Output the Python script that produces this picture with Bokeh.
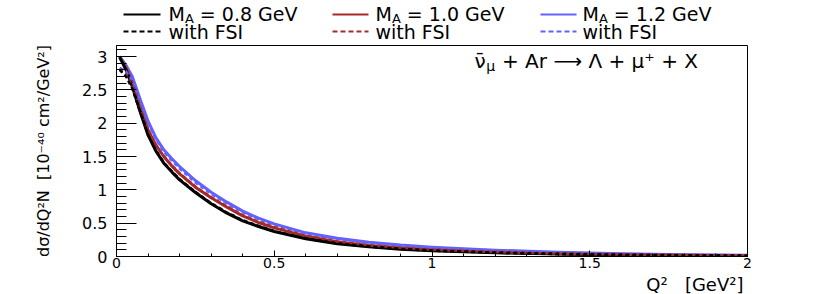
from bokeh.plotting import figure
from bokeh.models import Range1d, FixedTicker, Label
from bokeh.layouts import column
from bokeh.core.properties import value
from bokeh.embed import file_html
from bokeh.resources import INLINE

# ---------------- data ----------------
q2 = [0.01, 0.03, 0.05, 0.075, 0.1, 0.125, 0.15, 0.175, 0.2, 0.25, 0.3, 0.35, 0.4,
      0.45, 0.5, 0.6, 0.7, 0.8, 0.9, 1.0, 1.2, 1.4, 1.6, 1.8, 2.0]

ma08 = [2.99, 2.80, 2.55, 2.17, 1.82, 1.58, 1.40, 1.27, 1.15, 0.96, 0.79, 0.65, 0.535,
        0.45, 0.375, 0.265, 0.19, 0.145, 0.11, 0.086, 0.055, 0.036, 0.023, 0.015, 0.010]
ma10 = [2.99, 2.83, 2.60, 2.24, 1.90, 1.67, 1.50, 1.36, 1.24, 1.04, 0.88, 0.74, 0.61,
        0.51, 0.43, 0.305, 0.22, 0.165, 0.127, 0.100, 0.064, 0.042, 0.028, 0.019, 0.013]
ma12 = [3.00, 2.87, 2.70, 2.36, 2.03, 1.78, 1.60, 1.47, 1.35, 1.14, 0.965, 0.815, 0.68,
        0.575, 0.49, 0.355, 0.275, 0.215, 0.172, 0.140, 0.095, 0.063, 0.042, 0.028, 0.019]

ma08_fsi = [2.80, 2.70, 2.52, 2.17, 1.83, 1.59, 1.41, 1.28, 1.16, 0.97, 0.80, 0.66, 0.545,
            0.46, 0.38, 0.27, 0.195, 0.148, 0.113, 0.088, 0.057, 0.037, 0.024, 0.016, 0.011]
ma10_fsi = [2.81, 2.73, 2.56, 2.23, 1.90, 1.67, 1.50, 1.37, 1.25, 1.05, 0.89, 0.75, 0.62,
            0.52, 0.44, 0.31, 0.225, 0.168, 0.130, 0.102, 0.066, 0.043, 0.029, 0.019, 0.013]
ma12_fsi = [2.83, 2.78, 2.64, 2.32, 2.00, 1.76, 1.57, 1.44, 1.32, 1.11, 0.94, 0.795, 0.665,
            0.56, 0.475, 0.345, 0.265, 0.207, 0.165, 0.134, 0.090, 0.060, 0.040, 0.027, 0.018]

ma_labels = ["0.8", "1.0", "1.2"]
colors = ["#000000", "#a52a2a", "#6262ff"]

x_ticks = [0, 0.5, 1, 1.5, 2]
x_tick_labels = ["0", "0.5", "1", "1.5", "2"]
y_ticks = [0, 0.5, 1, 1.5, 2, 2.5, 3]
y_tick_labels = ["0", "0.5", "1", "1.5", "2", "2.5", "3"]

x_title = "Q²\u00a0\u00a0\u00a0[GeV²]"
y_title = "dσ/dQ²N\u00a0\u00a0[10⁻⁴⁰ cm²/GeV²]"

FONT = "DejaVu Sans"

# ---------------- layout geometry (page pixels) ----------------
W, H = 830, 294
LEG_H = 44
FR_L, FR_R = 116, 747          # frame left / right
FR_T, FR_B = 45, 256           # frame top / bottom
AX_B = 17                      # space for x tick labels below frame
BT_H = H - FR_B - AX_B         # bottom strip for x title

# ---------------- main plot ----------------
XMAX, YMAX = 2.0, 3.165
p = figure(width=W, height=FR_B + AX_B - LEG_H, x_range=Range1d(0, XMAX),
           y_range=Range1d(0, YMAX), output_backend="svg", toolbar_location=None,
           min_border_left=FR_L, min_border_right=W - FR_R,
           min_border_top=FR_T - LEG_H, min_border_bottom=AX_B)
p.grid.visible = False
p.outline_line_color = "black"
p.outline_line_width = 1
p.background_fill_color = "white"
p.border_fill_color = "white"

series = [ma08, ma10, ma12]
series_fsi = [ma08_fsi, ma10_fsi, ma12_fsi]
for vals, c in reversed(list(zip(series, colors))):
    p.line(q2, vals, line_color=c, line_width=3, line_join="round")
for vals, c in reversed(list(zip(series_fsi, colors))):
    p.line(q2, vals, line_color=c, line_width=2.5, line_dash="4 3", line_join="round")

x_minor = [round(i * 0.1, 1) for i in range(21)]
y_minor = [round(i * 0.1, 1) for i in range(32)]
p.xaxis.ticker = FixedTicker(ticks=x_ticks, minor_ticks=x_minor)
p.yaxis.ticker = FixedTicker(ticks=y_ticks, minor_ticks=y_minor)
p.xaxis.major_label_overrides = {float(t): l for t, l in zip(x_ticks, x_tick_labels)}
p.yaxis.major_label_overrides = {float(t): l for t, l in zip(y_ticks, y_tick_labels)}

for ax in (p.xaxis, p.yaxis):
    ax.axis_line_color = "black"
    ax.major_tick_line_color = "black"
    ax.minor_tick_line_color = "black"
    ax.major_tick_out = 0
    ax.minor_tick_out = 0
    ax.major_label_text_font = FONT
    ax.major_label_text_color = "black"

p.yaxis.major_label_text_font_size = "16px"
p.yaxis.major_tick_in = 20
p.yaxis.minor_tick_in = 10
p.yaxis.major_label_standoff = 9
p.yaxis.axis_label = y_title
p.yaxis.axis_label_text_font = FONT
p.yaxis.axis_label_text_font_size = "16px"
p.yaxis.axis_label_text_font_style = "normal"
p.yaxis.axis_label_text_color = "black"
p.yaxis.axis_label_standoff = 26

p.xaxis.major_label_text_font_size = "14px"
p.xaxis.major_tick_in = 6
p.xaxis.minor_tick_in = 3
p.xaxis.major_label_standoff = 1

PX_X = (FR_R - FR_L) / XMAX      # px per x unit
PX_Y = (FR_B - FR_T) / YMAX      # px per y unit

def dx(page_x):
    return (page_x - FR_L) / PX_X

def dy(page_y):
    return (FR_B - page_y) / PX_Y

# reaction text
sx, sy = 474, 60
p.add_layout(Label(x=dx(sx), y=dy(sy), text="ν̄", text_font=FONT, text_font_size="20px",
                   text_baseline="middle", text_color="black"))
p.add_layout(Label(x=dx(sx + 11.8), y=dy(sy + 5), text="μ", text_font=FONT,
                   text_font_size="14px", text_baseline="middle", text_color="black"))
p.add_layout(Label(x=dx(sx + 27.5), y=dy(sy), text="+ Ar ⟶ Λ + μ⁺ + X", text_font=FONT,
                   text_font_size="20px", text_baseline="middle", text_color="black"))


def strip(height, top_page):
    f = figure(width=W, height=height, x_range=Range1d(FR_L, FR_R),
               y_range=Range1d(top_page + height, top_page),
               output_backend="svg", toolbar_location=None,
               x_axis_location=None, y_axis_location=None,
               min_border_left=FR_L, min_border_right=W - FR_R,
               min_border_top=0, min_border_bottom=0)
    f.outline_line_color = None
    f.grid.visible = False
    f.background_fill_color = "white"
    f.border_fill_color = "white"
    return f

# ---------------- legend strip (page coordinates) ----------------
lg = strip(LEG_H, 0)
line_x0 = [123, 332, 540]
line_x1 = [160, 368, 576]
text_x = [168, 375, 582]
row1, row2 = 13, 31
FS = 19
for i in range(3):
    c = colors[i]
    lg.line([line_x0[i], line_x1[i]], [row1 + 1, row1 + 1], line_color=c, line_width=2)
    lg.line([line_x0[i], line_x1[i]], [row2, row2], line_color=c, line_width=2, line_dash="5 3")
    tx = text_x[i]
    lg.text(x=[tx], y=[row1], text=["M"], text_font=value(FONT), text_font_size=f"{FS}px",
            text_baseline="middle", text_color="black")
    lg.text(x=[tx + 0.863 * FS], y=[row1 + 5], text=["A"], text_font=value(FONT),
            text_font_size="13px", text_baseline="middle", text_color="black")
    lg.text(x=[tx + 0.863 * FS + 0.684 * 13 + 0.318 * FS], y=[row1],
            text=["= " + ma_labels[i] + " GeV"],
            text_font=value(FONT), text_font_size=f"{FS}px", text_baseline="middle",
            text_color="black")
    lg.text(x=[tx], y=[row2], text=["with FSI"], text_font=value(FONT), text_font_size=f"{FS}px",
            text_baseline="middle", text_color="black")

# ---------------- bottom strip with x title (page coordinates) ----------------
bt = strip(BT_H, FR_B + AX_B)
bt.text(x=[743], y=[283.5], text=[x_title], text_font=value(FONT), text_font_size="18px",
        text_align="right", text_baseline="middle", text_color="black")

layout = column(lg, p, bt, spacing=0)
open("out.html", "w").write(file_html(layout, INLINE))
